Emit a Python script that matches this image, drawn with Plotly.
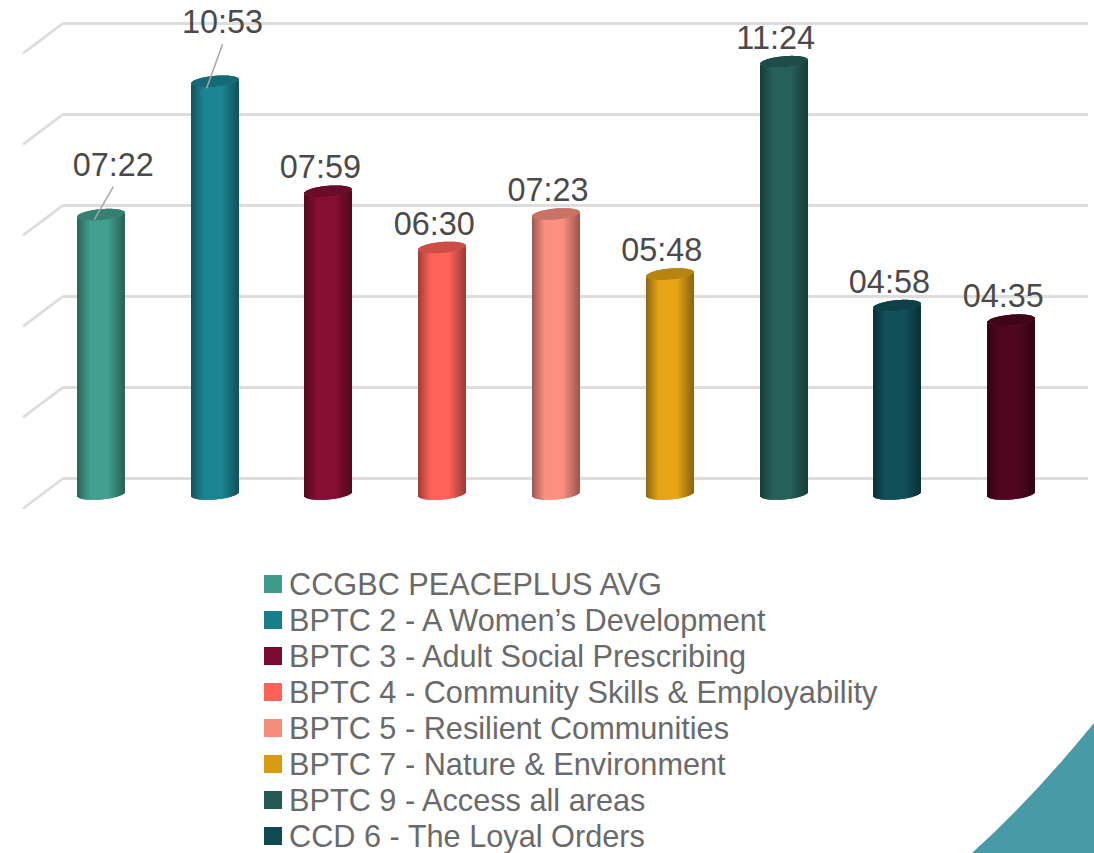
import numpy as np
import plotly.graph_objects as go

# ---- data ----
TIME_LABELS = ["07:22", "10:53", "07:59", "06:30", "07:23", "05:48", "11:24", "04:58", "04:35"]
VALUES_SECONDS = [442, 653, 479, 390, 443, 348, 684, 298, 275]
BAR_COLORS = ["#41A08F", "#1B8593", "#860D33", "#FF6259", "#FB9080", "#E5A516", "#26605A", "#125059", "#50061E"]
LEGEND_LABELS = [
    "CCGBC PEACEPLUS AVG",
    "BPTC 2 - A Women’s Development",
    "BPTC 3 - Adult Social Prescribing",
    "BPTC 4 - Community Skills & Employability",
    "BPTC 5 - Resilient Communities",
    "BPTC 7 - Nature & Environment",
    "BPTC 9 - Access all areas",
    "CCD 6 - The Loyal Orders",
]
LEGEND_COLORS = ["#3E9B8C", "#177F8C", "#7B0A31", "#FB6258", "#F48D7B", "#D99B14", "#235B54", "#0F4A52"]
GRID_TICKS = [0, 144, 288, 432, 576, 720]

# ---- layout constants (pixels) ----
W, H = 1094, 853
PX_PER_SEC = 0.632
BAR_STEP = 113.8
FIRST_BAR = 100.8
BASE_PX = 494
BACK_PX = 478.5
FRONT_PX = 508.5
BAR_W_PX = 47
TILT = 2.0
CAP_B = 5.5
LABEL_DX = [12.5, 8, -8, -8, -8, -8, -8, -8, -8]
LABEL_DY = [-47, -56, -21, -21, -21, -21, -21, -21, -21]
LEADERS = {0: ((12.5, -28), (-6.5, 5)), 1: ((8, -37), (-8, 7))}


def ux(px):
    return (px - FIRST_BAR) / BAR_STEP


def vy(py):
    return (BASE_PX - py) / PX_PER_SEC


def dv(dpx):
    return -dpx / PX_PER_SEC


def shade(t):
    if t < -0.45:
        return 0.62 + 0.38 * (t + 1) / 0.55
    if t > 0.3:
        return 1 - 0.38 * (t - 0.3) / 0.7
    return 1.0


def mix(hex_color, f):
    r, g, b = (int(hex_color[i:i + 2], 16) for i in (1, 3, 5))
    return f"rgb({round(r * f)},{round(g * f)},{round(b * f)})"


fig = go.Figure()

# invisible trace keeps the back-wall axes alive
fig.add_trace(go.Scatter(x=[0, 1], y=[0, 0], mode="markers", marker=dict(opacity=0),
                         xaxis="x", yaxis="y", showlegend=False, hoverinfo="skip"))

# floor diagonals at each tick
dx, dy = [], []
for tick in GRID_TICKS:
    dx += [ux(63), ux(23), None]
    dy += [tick + vy(BACK_PX), tick + vy(FRONT_PX), None]
fig.add_trace(go.Scatter(x=dx, y=dy, mode="lines", line=dict(color="#DDDDDD", width=2.8),
                         xaxis="x2", yaxis="y2", showlegend=False, hoverinfo="skip"))

# cylinders: vertical slices, each curved by the ellipse of the end caps
ts = (np.arange(BAR_W_PX) + 0.5) / BAR_W_PX * 2 - 1
for i, (val, col) in enumerate(zip(VALUES_SECONDS, BAR_COLORS)):
    xs, ys, bases, cols = [], [], [], []
    for t in ts:
        root = float(np.sqrt(1 - t * t))
        low = TILT * t - CAP_B * root
        xc = i + t * BAR_W_PX / 2 / BAR_STEP
        xs.append(xc)
        ys.append(val)
        bases.append(low / PX_PER_SEC)
        cols.append(mix(col, shade(t)))
        xs.append(xc)
        ys.append(2 * CAP_B * root / PX_PER_SEC)
        bases.append(val + low / PX_PER_SEC)
        cols.append(mix(col, 0.8))
    fig.add_trace(go.Bar(x=xs, y=ys, base=bases, width=1 / BAR_STEP,
                         marker=dict(color=cols, line=dict(width=0)),
                         xaxis="x2", yaxis="y2", showlegend=False, hoverinfo="skip"))

# leader lines
lx, ly = [], []
for i, (a, b) in LEADERS.items():
    lx += [i + a[0] / BAR_STEP, i + b[0] / BAR_STEP, None]
    ly += [VALUES_SECONDS[i] + dv(a[1]), VALUES_SECONDS[i] + dv(b[1]), None]
fig.add_trace(go.Scatter(x=lx, y=ly, mode="lines", line=dict(color="#A6A6A6", width=1.5),
                         xaxis="x2", yaxis="y2", showlegend=False, hoverinfo="skip"))

# data labels
fig.add_trace(go.Scatter(
    x=[i + d / BAR_STEP for i, d in enumerate(LABEL_DX)],
    y=[v + dv(d) for v, d in zip(VALUES_SECONDS, LABEL_DY)],
    mode="text", text=TIME_LABELS, textposition="middle center",
    textfont=dict(family="Liberation Sans", size=32.4, color="#4A4A4A"),
    xaxis="x2", yaxis="y2", showlegend=False, hoverinfo="skip"))

# key
key_y = [vy(584 + 36 * k) for k in range(len(LEGEND_LABELS))]
fig.add_trace(go.Scatter(
    x=[ux(273)] * len(LEGEND_LABELS), y=key_y, mode="markers",
    marker=dict(symbol="square", size=18, color=LEGEND_COLORS, line=dict(width=0)),
    xaxis="x2", yaxis="y2", showlegend=False, hoverinfo="skip"))
fig.add_trace(go.Scatter(
    x=[ux(289)] * len(LEGEND_LABELS), y=[v + dv(3) for v in key_y], mode="text", text=LEGEND_LABELS,
    textposition="middle right",
    textfont=dict(family="Liberation Sans", size=30.7, color="#6A6A6A"),
    xaxis="x2", yaxis="y2", showlegend=False, hoverinfo="skip"))

hidden = dict(showticklabels=False, ticks="", showgrid=False, zeroline=False, showline=False, fixedrange=True)
fig.update_layout(
    width=W, height=H, autosize=False,
    margin=dict(l=0, r=0, t=0, b=0, pad=0),
    paper_bgcolor="white", plot_bgcolor="rgba(0,0,0,0)",
    barmode="overlay", showlegend=False,
    xaxis=dict(domain=[63 / W, 1088 / W], range=[0, 1], **hidden),
    yaxis=dict(domain=[0, 1], range=[(BACK_PX - H) / PX_PER_SEC, BACK_PX / PX_PER_SEC],
               tickmode="array", tickvals=GRID_TICKS,
               showticklabels=False, ticks="", showgrid=True, gridcolor="#DDDDDD", gridwidth=2.8,
               zeroline=False, showline=False, fixedrange=True),
    xaxis2=dict(domain=[0, 1], range=[ux(0), ux(W)], anchor="y2", **hidden),
    yaxis2=dict(domain=[0, 1], range=[vy(H), vy(0)], anchor="x2", **hidden),
    shapes=[dict(type="path", xref="paper", yref="paper", layer="below",
                 path=f"M {972 / W} 0 Q {1033 / W} {(H - 798) / H} 1 {(H - 723) / H} L 1 0 Z",
                 fillcolor="#479AA6", line=dict(width=0))],
)

fig.write_html("out.html", config={"displayModeBar": False},
               post_script="document.body.style.margin='0';document.body.style.overflow='hidden';")
